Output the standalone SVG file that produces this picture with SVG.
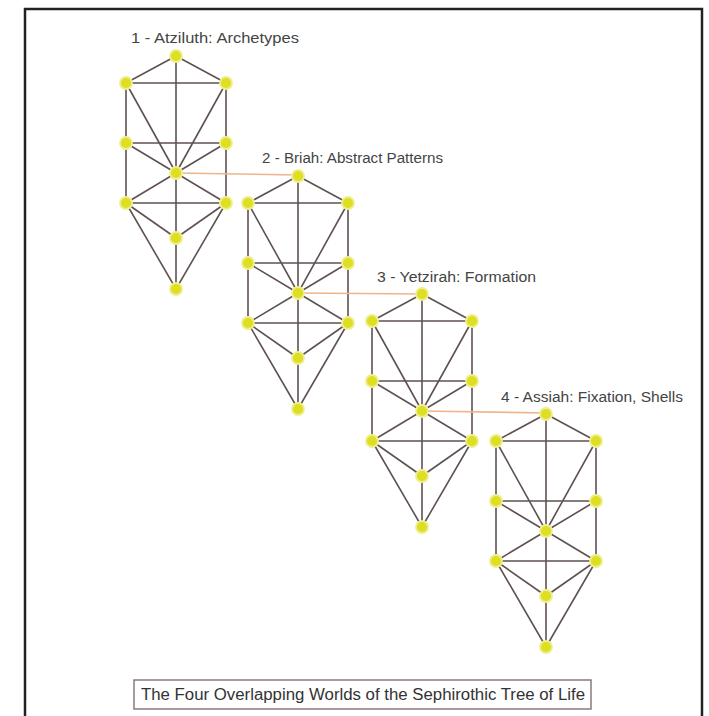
<svg xmlns="http://www.w3.org/2000/svg" width="709" height="716" viewBox="0 0 709 716">
<defs>
<style>
.edge{fill:none;stroke:#605252;stroke-width:1.6;stroke-linejoin:round}
.link{fill:none;stroke:#f0b48c;stroke-width:1.6}
.node circle{fill:#dede22;stroke:#eeee90;stroke-width:1.8}
.lbl{font-family:"Liberation Sans",Arial,sans-serif;font-size:14px;fill:#444}
.cap{font-family:"Liberation Sans",Arial,sans-serif;font-size:16px;fill:#333}
</style>
<path id="treeEdges" class="edge" d="M0,0 L0,233 M-50,27 L-50,147 M50,27 L50,147 M-50,27 L0,0 L50,27 Z M-50,27 L0,117 L50,27 M-50,87 L50,87 M-50,87 L0,117 L50,87 M-50,147 L0,117 L50,147 Z M-50,147 L0,182 L50,147 M-50,147 L0,233 L50,147"/>
</defs>
<rect x="0" y="0" width="709" height="716" fill="#ffffff"/>
<rect id="frame" x="25" y="9" width="677" height="730" fill="none" stroke="#222" stroke-width="2.5"/>

<g id="connectors">
<use href="#treeEdges" transform="translate(176,56)"/>
<use href="#treeEdges" transform="translate(298,176)"/>
<use href="#treeEdges" transform="translate(422,294)"/>
<use href="#treeEdges" transform="translate(546,414)"/>
<line class="link" x1="176" y1="173" x2="298" y2="175"/>
<line class="link" x1="298" y1="293" x2="422" y2="294"/>
<line class="link" x1="422" y1="411" x2="546" y2="413"/>
</g>

<g id="tree1" transform="translate(176,56)">
<g id="t1-1" class="node"><circle cx="0" cy="0" r="6"/></g>
<g id="t1-2" class="node"><circle cx="-50" cy="27" r="6"/></g>
<g id="t1-3" class="node"><circle cx="50" cy="27" r="6"/></g>
<g id="t1-4" class="node"><circle cx="-50" cy="87" r="6"/></g>
<g id="t1-5" class="node"><circle cx="50" cy="87" r="6"/></g>
<g id="t1-6" class="node"><circle cx="0" cy="117" r="6"/></g>
<g id="t1-7" class="node"><circle cx="-50" cy="147" r="6"/></g>
<g id="t1-8" class="node"><circle cx="50" cy="147" r="6"/></g>
<g id="t1-9" class="node"><circle cx="0" cy="182" r="6"/></g>
<g id="t1-10" class="node"><circle cx="0" cy="233" r="6"/></g>
</g>
<g id="tree2" transform="translate(298,176)">
<g id="t2-1" class="node"><circle cx="0" cy="0" r="6"/></g>
<g id="t2-2" class="node"><circle cx="-50" cy="27" r="6"/></g>
<g id="t2-3" class="node"><circle cx="50" cy="27" r="6"/></g>
<g id="t2-4" class="node"><circle cx="-50" cy="87" r="6"/></g>
<g id="t2-5" class="node"><circle cx="50" cy="87" r="6"/></g>
<g id="t2-6" class="node"><circle cx="0" cy="117" r="6"/></g>
<g id="t2-7" class="node"><circle cx="-50" cy="147" r="6"/></g>
<g id="t2-8" class="node"><circle cx="50" cy="147" r="6"/></g>
<g id="t2-9" class="node"><circle cx="0" cy="182" r="6"/></g>
<g id="t2-10" class="node"><circle cx="0" cy="233" r="6"/></g>
</g>
<g id="tree3" transform="translate(422,294)">
<g id="t3-1" class="node"><circle cx="0" cy="0" r="6"/></g>
<g id="t3-2" class="node"><circle cx="-50" cy="27" r="6"/></g>
<g id="t3-3" class="node"><circle cx="50" cy="27" r="6"/></g>
<g id="t3-4" class="node"><circle cx="-50" cy="87" r="6"/></g>
<g id="t3-5" class="node"><circle cx="50" cy="87" r="6"/></g>
<g id="t3-6" class="node"><circle cx="0" cy="117" r="6"/></g>
<g id="t3-7" class="node"><circle cx="-50" cy="147" r="6"/></g>
<g id="t3-8" class="node"><circle cx="50" cy="147" r="6"/></g>
<g id="t3-9" class="node"><circle cx="0" cy="182" r="6"/></g>
<g id="t3-10" class="node"><circle cx="0" cy="233" r="6"/></g>
</g>
<g id="tree4" transform="translate(546,414)">
<g id="t4-1" class="node"><circle cx="0" cy="0" r="6"/></g>
<g id="t4-2" class="node"><circle cx="-50" cy="27" r="6"/></g>
<g id="t4-3" class="node"><circle cx="50" cy="27" r="6"/></g>
<g id="t4-4" class="node"><circle cx="-50" cy="87" r="6"/></g>
<g id="t4-5" class="node"><circle cx="50" cy="87" r="6"/></g>
<g id="t4-6" class="node"><circle cx="0" cy="117" r="6"/></g>
<g id="t4-7" class="node"><circle cx="-50" cy="147" r="6"/></g>
<g id="t4-8" class="node"><circle cx="50" cy="147" r="6"/></g>
<g id="t4-9" class="node"><circle cx="0" cy="182" r="6"/></g>
<g id="t4-10" class="node"><circle cx="0" cy="233" r="6"/></g>
</g>

<g id="labels">
<text class="lbl" x="131" y="43" textLength="168" lengthAdjust="spacingAndGlyphs">1 - Atziluth: Archetypes</text>
<text class="lbl" x="262" y="163" textLength="181" lengthAdjust="spacingAndGlyphs">2 - Briah: Abstract Patterns</text>
<text class="lbl" x="377" y="282" textLength="159" lengthAdjust="spacingAndGlyphs">3 - Yetzirah: Formation</text>
<text class="lbl" x="501" y="402" textLength="182" lengthAdjust="spacingAndGlyphs">4 - Assiah: Fixation, Shells</text>
</g>

<g id="caption">
<rect x="134" y="680" width="457" height="29" fill="#fff" stroke="#8a7a7a" stroke-width="1.5"/>
<text class="cap" x="141" y="700" textLength="444" lengthAdjust="spacingAndGlyphs">The Four Overlapping Worlds of the Sephirothic Tree of Life</text>
</g>
</svg>
